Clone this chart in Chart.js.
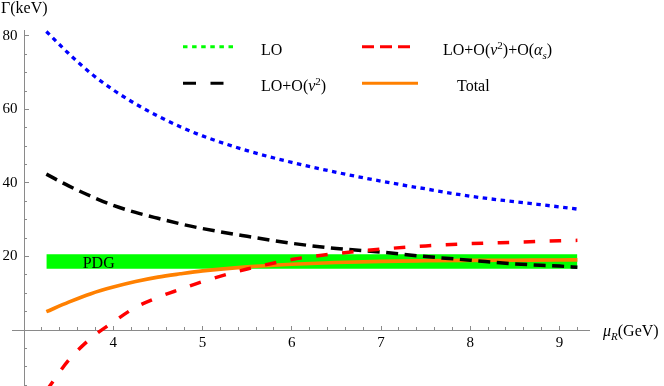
<!DOCTYPE html>
<html><head><meta charset="utf-8">
<script src="https://cdn.jsdelivr.net/npm/chart.js@4.4.0/dist/chart.umd.min.js"></script>
<style>html,body{margin:0;padding:0;background:#fff;}canvas{display:block;}</style>
</head><body>
<canvas id="c" width="664" height="386"></canvas>
<script>
// ---- data ----
const muR        = [3.25, 3.5, 3.75, 4.0, 4.25, 4.5, 4.75, 5.0, 5.5, 6.0, 6.5, 7.0, 7.5, 8.0, 8.5, 9.0, 9.2];
const gammaLO    = [81.2, 75.2, 69.8, 65.3, 61.5, 58.2, 55.3, 52.8, 48.8, 45.6, 42.9, 40.5, 38.4, 36.4, 34.9, 33.5, 32.9];
const gammaLOv2  = [42.4, 39.2, 36.4, 33.9, 32.0, 30.4, 28.9, 27.6, 25.5, 23.6, 22.2, 21.2, 20.0, 19.0, 18.0, 17.4, 17.1];
const gammaLOv2as= [-16.5, -8.2, -2.2, 2.2, 6.2, 8.9, 11.1, 13.2, 16.6, 19.2, 20.8, 22.0, 22.9, 23.5, 23.9, 24.3, 24.4];
const gammaTotal = [5.0, 7.6, 9.9, 11.7, 13.2, 14.4, 15.3, 16.1, 17.2, 17.9, 18.4, 18.7, 18.85, 18.95, 19.0, 19.05, 19.1];
const pdgX       = [3.25, 9.2];
const pdgHigh    = [20.6, 20.6];
const pdgLow     = [16.7, 16.7];
const seriesLabels = ['LO', 'LO+O(ν²)', 'LO+O(ν²)+O(αs)', 'Total'];
const xMajorTicks = [4, 5, 6, 7, 8, 9];
const yMajorTicks = [20, 40, 60, 80];

// ---- layout constants ----
const X_MIN = 2.873, X_MAX = 9.33, Y_MIN = -15.2, Y_MAX = 81.6, Y_AXIS_AT = 3.0;
const AX = '#8a8a8a';
const FONT = '"Liberation Serif", "Times New Roman", serif';

const xMinorTicks = [];
for (let k = 16; k <= 46; k++) { const v = +(k * 0.2).toFixed(1); if (Math.abs(v - Math.round(v)) > 1e-6) xMinorTicks.push(v); }
const yMinorTicks = [];
for (let v = -15; v <= 80; v += 5) { if (v !== 0 && v % 20 !== 0) yMinorTicks.push(v); }

const pts = (xs, ys) => xs.map((x, i) => ({x, y: ys[i]}));
const setTicks = arr => (s => { s.ticks = arr.map(v => ({value: v})); });
const noPad = s => { s.paddingTop = 0; s.paddingBottom = 0; s.paddingLeft = 0; s.paddingRight = 0; };

function xAxis(ticks, len, showBorder, showLabels) {
  return {
    type: 'linear', axis: 'x', min: X_MIN, max: X_MAX, bounds: 'data', position: {y: 0},
    afterBuildTicks: setTicks(ticks), afterFit: noPad,
    grid: {display: true, drawOnChartArea: false, drawTicks: true, tickLength: len, tickColor: AX, tickWidth: 1},
    border: {display: showBorder, color: AX, width: 1},
    ticks: {display: showLabels, autoSkip: false, maxRotation: 0, padding: 9, color: '#000',
            font: {family: FONT, size: 15}, callback: v => String(v)}
  };
}
function yAxis(ticks, len, showBorder) {
  return {
    type: 'linear', axis: 'y', min: Y_MIN, max: Y_MAX, bounds: 'data', position: {x: Y_AXIS_AT},
    afterBuildTicks: setTicks(ticks), afterFit: noPad,
    grid: {display: true, drawOnChartArea: false, drawTicks: true, tickLength: len, tickColor: AX, tickWidth: 1},
    border: {display: showBorder, color: AX, width: 1},
    ticks: {display: false}
  };
}

function richText(ctx, x, y, segs, size) {
  let cx = x;
  for (const s of segs) {
    const small = s.sup || s.sub;
    const sz = small ? Math.round(size * 0.7) : size;
    ctx.font = (s.it ? 'italic ' : '') + sz + 'px ' + FONT;
    const dy = s.sup ? -size * 0.4 : (s.sub ? size * 0.22 : 0);
    ctx.fillText(s.t, cx, y + dy);
    cx += ctx.measureText(s.t).width;
  }
  return cx;
}

const legendSegs = {
  'LO': [{t: 'LO'}],
  'LO+O(ν²)': [{t: 'LO+O('}, {t: 'ν', it: true}, {t: '2', sup: true}, {t: ')'}],
  'LO+O(ν²)+O(αs)': [{t: 'LO+O('}, {t: 'ν', it: true}, {t: '2', sup: true}, {t: ')+O('}, {t: 'α', it: true}, {t: 's', it: true, sub: true}, {t: ')'}],
  'Total': [{t: 'Total'}]
};

const decorPlugin = {
  id: 'decor',
  afterDraw(chart) {
    const ctx = chart.ctx;
    const xs = chart.scales.x, ys = chart.scales.y;
    ctx.save();
    ctx.fillStyle = '#000';
    ctx.textBaseline = 'alphabetic';
    ctx.textAlign = 'left';
    // axis titles
    richText(ctx, 1, 13, [{t: 'Γ(keV)'}], 16);
    richText(ctx, 603, ys.getPixelForValue(0) + 6, [{t: 'μ', it: true}, {t: 'R', it: true, sub: true}, {t: '(GeV)'}], 16);
    // PDG label on the band
    richText(ctx, xs.getPixelForValue(3.657), ys.getPixelForValue(16.85), [{t: 'PDG'}], 16);

    // legend
    const items = [
      {label: seriesLabels[0], color: '#00ff00', dash: [4.5, 4.6], w: 3, x0: 183, x1: 233, y: 46.7, tx: 261, ty: 55},
      {label: seriesLabels[2], color: '#ff0000', dash: [12, 6], w: 3, x0: 362, x1: 410, y: 46.7, tx: 443, ty: 55},
      {label: seriesLabels[1], color: '#000000', dash: [13, 14.5], w: 3, x0: 183, x1: 223.5, y: 83.3, tx: 261, ty: 91},
      {label: seriesLabels[3], color: '#ff8000', dash: [], w: 3, x0: 362, x1: 418, y: 83.3, tx: 457, ty: 91}
    ];
    for (const it of items) {
      ctx.save();
      ctx.strokeStyle = it.color; ctx.lineWidth = it.w; ctx.lineCap = 'butt';
      ctx.setLineDash(it.dash);
      ctx.beginPath(); ctx.moveTo(it.x0, it.y); ctx.lineTo(it.x1, it.y); ctx.stroke();
      ctx.restore();
      ctx.fillStyle = '#000';
      richText(ctx, it.tx, it.ty, legendSegs[it.label], 16);
    }
    ctx.restore();
  }
};

const lineBase = {pointRadius: 0, pointHoverRadius: 0, fill: false, cubicInterpolationMode: 'monotone',
                  borderCapStyle: 'butt', xAxisID: 'x', yAxisID: 'y'};

new Chart(document.getElementById('c'), {
  type: 'line',
  data: {
    datasets: [
      Object.assign({}, lineBase, {label: seriesLabels[2], data: pts(muR, gammaLOv2as), borderColor: '#ff0000', borderWidth: 3.5, borderDash: [11.5, 14.5]}),
      Object.assign({}, lineBase, {label: seriesLabels[1], data: pts(muR, gammaLOv2), borderColor: '#000000', borderWidth: 3.5, borderDash: [12, 6.5]}),
      Object.assign({}, lineBase, {label: seriesLabels[0], data: pts(muR, gammaLO), borderColor: '#0000ff', borderWidth: 3.3, borderDash: [4.5, 4.5]}),
      Object.assign({}, lineBase, {label: seriesLabels[3], data: pts(muR, gammaTotal), borderColor: '#ff8000', borderWidth: 3.6}),
      Object.assign({}, lineBase, {label: 'PDG', data: pts(pdgX, pdgHigh), borderColor: 'rgba(0,0,0,0)', borderWidth: 0, backgroundColor: '#00ff00', fill: '+1', cubicInterpolationMode: 'default', tension: 0}),
      Object.assign({}, lineBase, {label: 'PDG-low', data: pts(pdgX, pdgLow), borderColor: 'rgba(0,0,0,0)', borderWidth: 0, cubicInterpolationMode: 'default', tension: 0})
    ]
  },
  options: {
    responsive: false, animation: false, devicePixelRatio: 1,
    layout: {padding: {left: 12.7, right: 75, top: 30, bottom: 0}},
    plugins: {legend: {display: false}, tooltip: {enabled: false}},
    events: [],
    scales: {
      x: xAxis(xMajorTicks, -5, true, true),
      x2: xAxis(xMinorTicks, -3, false, false),
      y: yAxis(yMajorTicks, -5, true),
      y2: yAxis(yMinorTicks, -3, false),
      yl: {
        type: 'linear', axis: 'y', min: Y_MIN, max: Y_MAX, bounds: 'data', position: {x: 2.927},
        afterBuildTicks: setTicks(yMajorTicks), afterFit: noPad,
        grid: {display: false, drawTicks: false}, border: {display: false},
        ticks: {display: true, autoSkip: false, padding: 0, color: '#000', font: {family: FONT, size: 15}, callback: v => String(v)}
      }
    }
  },
  plugins: [decorPlugin]
});
</script>
</body></html>
